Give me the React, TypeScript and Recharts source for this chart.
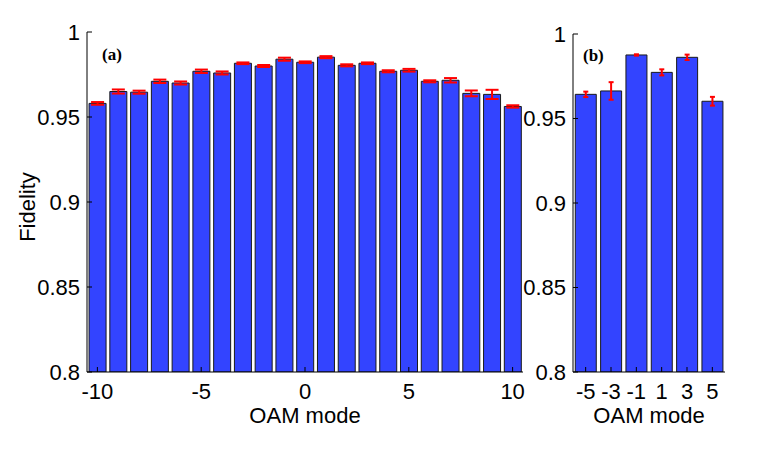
import React from "react";
import { BarChart, Bar, XAxis, YAxis, ErrorBar } from "recharts";

// panel (a): all OAM modes
const modesA = [-10, -9, -8, -7, -6, -5, -4, -3, -2, -1, 0, 1, 2, 3, 4, 5, 6, 7, 8, 9, 10];
const fidelityA = [0.958, 0.965, 0.9646, 0.971, 0.970, 0.9769, 0.9759, 0.9816, 0.980, 0.984, 0.9822,
  0.9852, 0.9804, 0.9816, 0.9769, 0.9775, 0.971, 0.9716, 0.9639, 0.9633, 0.9562];
const errA = [0.0008, 0.0012, 0.0009, 0.001, 0.0009, 0.001, 0.0009, 0.0005, 0.0006, 0.0009, 0.0005,
  0.0006, 0.0006, 0.0005, 0.0006, 0.0008, 0.0006, 0.0013, 0.0017, 0.0027, 0.0007];
const ticksA = [-10, -5, 0, 5, 10];

// panel (b): odd modes
const modesB = [-5, -3, -1, 1, 3, 5];
const fidelityB = [0.9643, 0.9663, 0.9876, 0.9773, 0.9862, 0.9602];
const errB = [0.0016, 0.0052, 0.0004, 0.0018, 0.0016, 0.0026];

const yTicks = [0.8, 0.85, 0.9, 0.95, 1];

const dataA = modesA.map((m, i) => ({ mode: m, fid: fidelityA[i], err: errA[i] }));
const dataB = modesB.map((m, i) => ({ mode: m, fid: fidelityB[i], err: errB[i] }));

const font = "'Liberation Sans', Arial, sans-serif";
const tickStyle = { fontSize: 22, fill: "#000", fontFamily: font };
const blank = () => "";

function Panel({ data, ticks, width, top, yAxisWidth, right, gap, capWidth, withYLabel }: any) {
  return (
    <BarChart width={width} height={454} data={data} margin={{ top, right, bottom: 0, left: 0 }}
      barCategoryGap={gap}>
      <XAxis dataKey="mode" type="category" ticks={ticks} interval={0} height={454 - 372}
        tickSize={-5} tickMargin={16} tick={tickStyle} stroke="#000"
        label={{ value: "OAM mode", position: "insideBottom", offset: 31, style: { fontSize: 22, fill: "#000", fontFamily: font } }} />
      <XAxis xAxisId="top" orientation="top" dataKey="mode" type="category" ticks={ticks} interval={0}
        height={0} tickSize={-5} tickFormatter={blank} stroke="#000" />
      <YAxis domain={[0.8, 1]} ticks={yTicks} allowDataOverflow width={yAxisWidth}
        tickSize={-5} tickMargin={12} tick={tickStyle} stroke="#000"
        label={withYLabel ? {
          content: () => (
            <text x={27} y={207} transform="rotate(-90 27 207)" textAnchor="middle"
              dominantBaseline="central" fontSize={22} fontFamily={font} fill="#000">Fidelity</text>
          ),
        } : undefined} />
      <YAxis yAxisId="right" orientation="right" domain={[0.8, 1]} ticks={yTicks} width={0}
        tickSize={-5} tickFormatter={blank} stroke="#000" />
      <Bar dataKey="fid" fill="#3344ff" stroke="#1a1a1a" strokeWidth={1} isAnimationActive={false}>
        <ErrorBar dataKey="err" width={capWidth} stroke="#ff0000" strokeWidth={2} />
      </Bar>
    </BarChart>
  );
}

export default function App() {
  const tag: React.CSSProperties = {
    position: "absolute", fontFamily: "'Liberation Serif', 'Times New Roman', serif",
    fontWeight: "bold", fontSize: 17, lineHeight: 1,
  };
  return (
    <div style={{ position: "absolute", left: 0, top: 0, width: 757, height: 454, background: "#fff" }}>
      <div style={{ position: "absolute", left: 0, top: 0 }}>
        <Panel data={dataA} ticks={ticksA} width={540} top={32} yAxisWidth={87} right={17}
          gap="10%" capWidth={6.5} withYLabel />
      </div>
      <div style={{ position: "absolute", left: 500, top: 0 }}>
        <Panel data={dataB} ticks={modesB} width={240} top={34} yAxisWidth={73} right={15}
          gap="9%" capWidth={2.5} withYLabel={false} />
      </div>
      <div style={{ ...tag, left: 102, top: 46 }}>(a)</div>
      <div style={{ ...tag, left: 583, top: 47 }}>(b)</div>
    </div>
  );
}
